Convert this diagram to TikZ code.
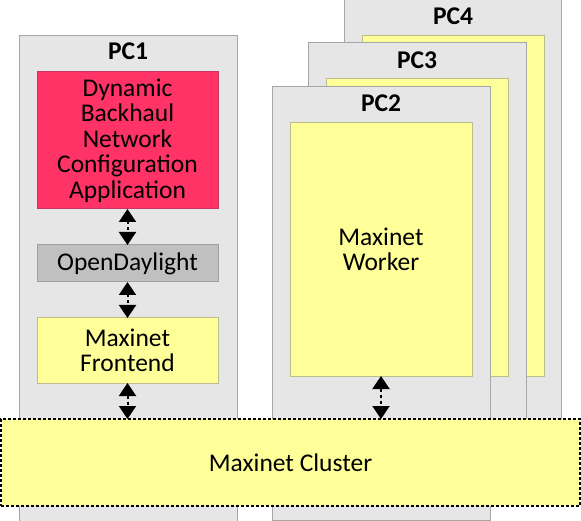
\documentclass[tikz,border=0pt]{standalone}
\usepackage{fontspec}
\setmainfont{Carlito}
\usetikzlibrary{arrows.meta}
\definecolor{pcfill}{HTML}{E6E6E6}
\definecolor{pcline}{HTML}{A6A6A6}
\definecolor{yel}{HTML}{FFFF99}
\definecolor{yelline}{HTML}{BDBD8C}
\definecolor{appred}{HTML}{FF3366}
\definecolor{appline}{HTML}{C8385E}
\definecolor{odlgray}{HTML}{C0C0C0}
\definecolor{odlline}{HTML}{A0A0A0}
\tikzset{
  blk/.style={anchor=north west, inner sep=0pt, outer sep=0pt, align=center, line width=1pt},
  pcbox/.style={blk, fill=pcfill, draw=pcline},
  ybox/.style={blk, fill=yel, draw=yelline},
  appbox/.style={blk, fill=appred, draw=appline},
  odlbox/.style={blk, fill=odlgray, draw=odlline},
  clusterbox/.style={blk, fill=yel, draw=black, line width=1.6pt, dash pattern=on 3pt off 2pt},
  pctitle/.style={font=\fontsize{25.5}{25.5}\selectfont\bfseries, inner sep=0pt},
  link/.style={line width=2pt, dash pattern=on 3pt off 3pt, {Triangle[width=17pt,length=13pt]}-{Triangle[width=17pt,length=13pt]}}
}
\begin{document}
\begin{tikzpicture}[x=1pt,y=-1pt, font=\fontsize{25.5}{25.5}\selectfont]
\useasboundingbox (0,0) rectangle (581,521);
% PC4
\node[pcbox, minimum width=217pt, minimum height=442pt] (pc4) at (344,-2) {};
\node[pctitle] (t4) at (453,16) {PC4};
\node[ybox, minimum width=182pt, minimum height=340pt] (w4) at (362,36) {};
% PC3
\node[pcbox, minimum width=218pt, minimum height=417pt] (pc3) at (308,43) {};
\node[pctitle] (t3) at (417,60) {PC3};
\node[ybox, minimum width=182pt, minimum height=297pt] (w3) at (326,79) {};
% PC2
\node[pcbox, minimum width=218pt, minimum height=433pt] (pc2) at (272,87) {};
\node[pctitle] (t2) at (381,103) {PC2};
\node[ybox, minimum width=182pt, minimum height=253pt] (w2) at (290,123) {Maxinet\\Worker};
% PC1
\node[pcbox, minimum width=218pt, minimum height=486pt] (pc1) at (19,36) {};
\node[pctitle] (t1) at (128,51) {PC1};
\node[appbox, minimum width=181pt, minimum height=137pt] (app) at (37,72) {Dynamic\\Backhaul\\Network\\Configuration\\Application};
\node[odlbox, minimum width=181pt, minimum height=37pt] (odl) at (37,245) {OpenDaylight};
\node[ybox, minimum width=181pt, minimum height=65pt] (fe) at (37,318) {Maxinet\\Frontend};
% Cluster
\node[clusterbox, minimum width=579pt, minimum height=87pt] (cluster) at (1,419) {Maxinet Cluster};
% Links
\draw[link] (app.south) -- (odl.north);
\draw[link] (odl.south) -- (fe.north);
\draw[link] (fe.south) -- (fe.south |- cluster.north);
\draw[link] (w2.south) -- (w2.south |- cluster.north);
\end{tikzpicture}
\end{document}
